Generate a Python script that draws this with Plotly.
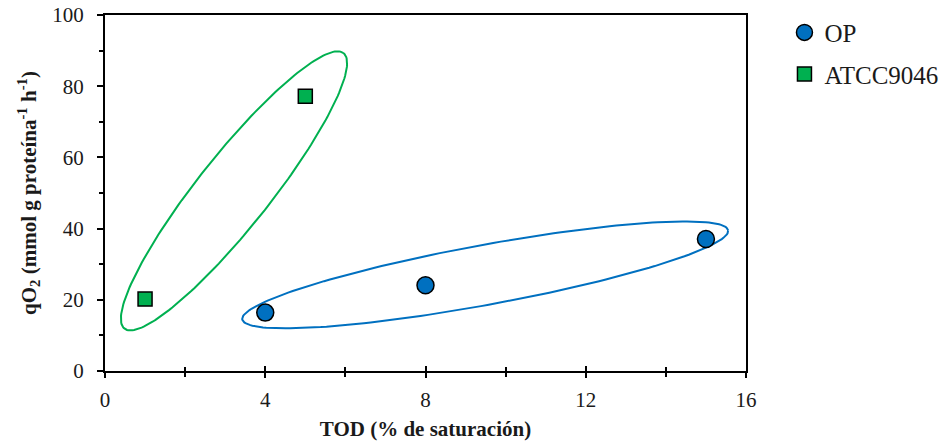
import numpy as np
import plotly.graph_objects as go

# Oxygen uptake vs dissolved oxygen tension
op_tod = [4, 8, 15]
op_qo2 = [16.4, 24.1, 37.1]
atcc_tod = [1, 5]
atcc_qo2 = [20.2, 77.2]

x_ticks = [0, 4, 8, 12, 16]
y_ticks = [0, 20, 40, 60, 80, 100]

BLUE = "#0070C0"
GREEN = "#00B050"
FONT = "'Liberation Serif', 'Times New Roman', serif"

W, H = 942, 444
M = dict(l=105, r=196, t=15, b=73, autoexpand=False)
X_RANGE = [0, 16]
Y_RANGE = [0, 100]
px_x = (W - M["l"] - M["r"]) / (X_RANGE[1] - X_RANGE[0])
px_y = (H - M["t"] - M["b"]) / (Y_RANGE[1] - Y_RANGE[0])


def ellipse(cx, cy, a_px, b_px, angle_deg, n=200):
    """Rotated ellipse defined in screen pixels, returned in data units."""
    t = np.linspace(0, 2 * np.pi, n)
    th = np.radians(angle_deg)
    u = a_px * np.cos(t)
    v = b_px * np.sin(t)
    dx = u * np.cos(th) - v * np.sin(th)
    dy = u * np.sin(th) + v * np.cos(th)
    return cx + dx / px_x, cy + dy / px_y


fig = go.Figure()

# group outlines
gx, gy = ellipse(3.22, 50.6, 176, 36, 51.5)
bx, by = ellipse(9.49, 27.0, 247, 30, 10.4)
fig.add_trace(go.Scatter(x=gx, y=gy, mode="lines", line=dict(color=GREEN, width=2),
                         showlegend=False, hoverinfo="skip"))
fig.add_trace(go.Scatter(x=bx, y=by, mode="lines", line=dict(color=BLUE, width=2),
                         showlegend=False, hoverinfo="skip"))

fig.add_trace(go.Scatter(
    x=op_tod, y=op_qo2, mode="markers", name="OP", legendgroup="op",
    marker=dict(symbol="circle", size=17, color=BLUE, line=dict(color="black", width=1.5)),
))
fig.add_trace(go.Scatter(
    x=atcc_tod, y=atcc_qo2, mode="markers", name="ATCC9046", legendgroup="atcc",
    marker=dict(symbol="square", size=14, color=GREEN, line=dict(color="black", width=1.5)),
))

# inward half of the x ticks (ticks cross the axis line)
fig.add_trace(go.Scatter(x=[None], y=[None], xaxis="x2", showlegend=False, hoverinfo="skip"))

axis_common = dict(
    showgrid=False, zeroline=False, showline=True, linecolor="black", linewidth=2,
    mirror=True, ticks="outside", tickcolor="black", tickwidth=2,
    tickfont=dict(family=FONT, size=21, color="#1a1a1a"),
)

fig.update_layout(
    width=W, height=H, margin=M,
    font=dict(family=FONT, color="#1a1a1a"),
    paper_bgcolor="white", plot_bgcolor="white",
    xaxis=dict(
        range=X_RANGE, tickvals=x_ticks, ticklen=5, ticklabelstandoff=4,
        minor=dict(dtick=2, ticks="outside", ticklen=4, tickwidth=2, tickcolor="black"),
        title=dict(text="<b>TOD (% de saturación)</b>", standoff=10,
                   font=dict(family=FONT, size=21, color="#1a1a1a")),
        **axis_common,
    ),
    xaxis2=dict(
        range=X_RANGE, overlaying="x", anchor="y", side="bottom",
        tickvals=x_ticks, ticks="inside", ticklen=5, tickwidth=2, tickcolor="black",
        minor=dict(dtick=2, ticks="inside", ticklen=4, tickwidth=2, tickcolor="black"),
        showticklabels=False, showgrid=False, zeroline=False, showline=False,
    ),
    yaxis=dict(
        range=Y_RANGE, tickvals=y_ticks, ticklen=6, ticklabelstandoff=9,
        minor=dict(dtick=10, ticks="outside", ticklen=4, tickwidth=2, tickcolor="black"),
        title=dict(text="<b>qO<sub>2</sub> (mmol g proteína<sup>-1</sup> h<sup>-1</sup>)</b>",
                   standoff=10, font=dict(family=FONT, size=21, color="#1a1a1a")),
        **axis_common,
    ),
    legend=dict(
        x=1.06, y=1.015, xanchor="left", yanchor="top",
        font=dict(family=FONT, size=25, color="#1a1a1a"),
        tracegroupgap=6, itemwidth=30, bgcolor="rgba(0,0,0,0)",
    ),
)

fig.write_html("out.html")
